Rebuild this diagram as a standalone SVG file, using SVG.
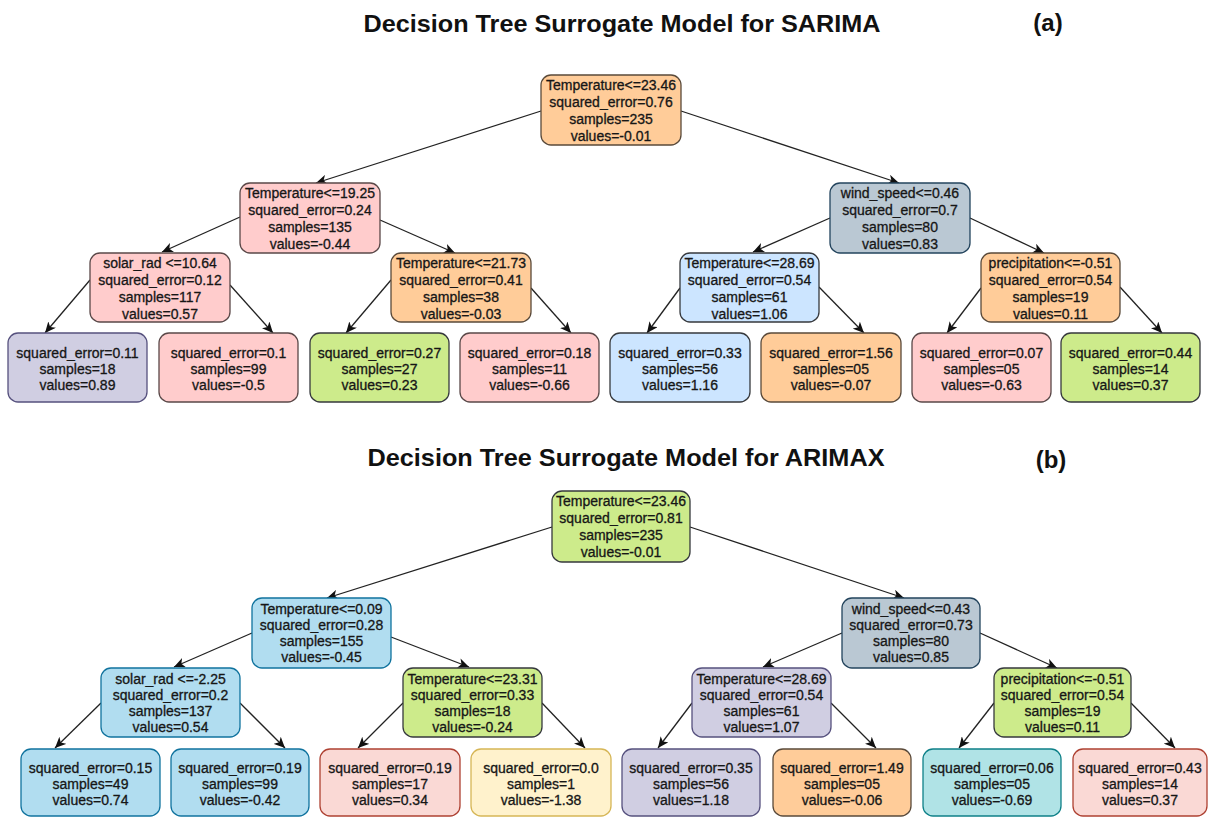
<svg xmlns="http://www.w3.org/2000/svg" width="1208" height="817" viewBox="0 0 1208 817">
<style>
.title{font-family:"Liberation Sans",Arial,sans-serif;font-weight:bold;font-size:24px;fill:#111;text-anchor:middle}
.t{font-family:"Liberation Sans",Arial,sans-serif;font-size:14px;fill:#161616;stroke:#161616;stroke-width:0.3;text-anchor:middle}
rect{stroke-width:1.3}
.orange{fill:#ffcc99;stroke:#5a4a3a}
.pink{fill:#ffcccc;stroke:#5a4848}
.gray{fill:#bac8d3;stroke:#23445d}
.lblue{fill:#cce5ff;stroke:#36393d}
.lav{fill:#d0cee2;stroke:#56517e}
.green{fill:#cdeb8b;stroke:#36393d}
.blue{fill:#b1ddf0;stroke:#10739e}
.salmon{fill:#fad9d5;stroke:#ae4132}
.yellow{fill:#fff2cc;stroke:#d6b656}
.teal{fill:#b0e3e6;stroke:#0e8088}
.edge line{stroke:#222;stroke-width:1.3;marker-end:url(#arr)}
</style>
<defs>
<marker id="arr" markerUnits="userSpaceOnUse" markerWidth="12" markerHeight="10" refX="11" refY="5" orient="auto">
<path d="M0,0 L11,5 L0,10 L3,5 z" fill="#111"/>
</marker>
</defs>
<rect width="1208" height="817" fill="#fff" stroke="none"/>

<text class="title" x="622" y="32" textLength="517" lengthAdjust="spacingAndGlyphs">Decision Tree Surrogate Model for SARIMA</text>
<text class="title" x="1048" y="31">(a)</text>
<text class="title" x="626" y="466" textLength="517" lengthAdjust="spacingAndGlyphs">Decision Tree Surrogate Model for ARIMAX</text>
<text class="title" x="1051" y="468">(b)</text>

<g id="edges" class="edge">
<line x1="541" y1="111" x2="316" y2="183"/>
<line x1="681" y1="111" x2="899" y2="183"/>
<line x1="240" y1="217" x2="162" y2="252"/>
<line x1="380" y1="220" x2="455" y2="253"/>
<line x1="830" y1="218" x2="753" y2="252"/>
<line x1="970" y1="218" x2="1044" y2="253"/>
<line x1="90" y1="280" x2="45" y2="333"/>
<line x1="230" y1="285" x2="273" y2="333"/>
<line x1="391" y1="280" x2="346" y2="333"/>
<line x1="531" y1="288" x2="571" y2="333"/>
<line x1="680" y1="288" x2="647" y2="333"/>
<line x1="819" y1="287" x2="864" y2="333"/>
<line x1="981" y1="288" x2="947" y2="333"/>
<line x1="1120" y1="287" x2="1162" y2="333"/>

<line x1="552" y1="527" x2="327" y2="598"/>
<line x1="690" y1="527" x2="904" y2="598"/>
<line x1="252" y1="633" x2="174" y2="667"/>
<line x1="391" y1="637" x2="469" y2="667"/>
<line x1="101" y1="703" x2="55" y2="748"/>
<line x1="240" y1="703" x2="285" y2="748"/>
<line x1="403" y1="703" x2="358" y2="748"/>
<line x1="542" y1="703" x2="585" y2="748"/>
<line x1="842" y1="633" x2="763" y2="667"/>
<line x1="980" y1="633" x2="1057" y2="668"/>
<line x1="692" y1="703" x2="658" y2="748"/>
<line x1="831" y1="703" x2="876" y2="748"/>
<line x1="994" y1="703" x2="959" y2="748"/>
<line x1="1131" y1="703" x2="1175" y2="748"/>
</g>

<!-- Tree (a) -->
<g id="a_root"><rect class="orange" x="541" y="75" width="140" height="70" rx="10"/>
<text class="t"><tspan x="611" y="90">Temperature&lt;=23.46</tspan><tspan x="611" y="107">squared_error=0.76</tspan><tspan x="611" y="124">samples=235</tspan><tspan x="611" y="141">values=-0.01</tspan></text></g>

<g id="a_n1"><rect class="pink" x="240" y="183" width="140" height="70" rx="10"/>
<text class="t"><tspan x="310" y="198">Temperature&lt;=19.25</tspan><tspan x="310" y="215">squared_error=0.24</tspan><tspan x="310" y="232">samples=135</tspan><tspan x="310" y="249">values=-0.44</tspan></text></g>

<g id="a_n2"><rect class="gray" x="830" y="183" width="140" height="70" rx="10"/>
<text class="t"><tspan x="900" y="198">wind_speed&lt;=0.46</tspan><tspan x="900" y="215">squared_error=0.7</tspan><tspan x="900" y="232">samples=80</tspan><tspan x="900" y="249">values=0.83</tspan></text></g>

<g id="a_n3"><rect class="pink" x="90" y="253" width="140" height="69" rx="10"/>
<text class="t"><tspan x="160" y="268">solar_rad &lt;=10.64</tspan><tspan x="160" y="285">squared_error=0.12</tspan><tspan x="160" y="302">samples=117</tspan><tspan x="160" y="319">values=0.57</tspan></text></g>

<g id="a_n4"><rect class="orange" x="391" y="253" width="140" height="69" rx="10"/>
<text class="t"><tspan x="461" y="268">Temperature&lt;=21.73</tspan><tspan x="461" y="285">squared_error=0.41</tspan><tspan x="461" y="302">samples=38</tspan><tspan x="461" y="319">values=-0.03</tspan></text></g>

<g id="a_n5"><rect class="lblue" x="680" y="253" width="139" height="69" rx="10"/>
<text class="t"><tspan x="749.5" y="268">Temperature&lt;=28.69</tspan><tspan x="749.5" y="285">squared_error=0.54</tspan><tspan x="749.5" y="302">samples=61</tspan><tspan x="749.5" y="319">values=1.06</tspan></text></g>

<g id="a_n6"><rect class="orange" x="981" y="253" width="139" height="69" rx="10"/>
<text class="t"><tspan x="1050.5" y="268">precipitation&lt;=-0.51</tspan><tspan x="1050.5" y="285">squared_error=0.54</tspan><tspan x="1050.5" y="302">samples=19</tspan><tspan x="1050.5" y="319">values=0.11</tspan></text></g>

<g id="a_l1"><rect class="lav" x="8" y="333" width="139" height="69" rx="10"/>
<text class="t"><tspan x="77.5" y="358">squared_error=0.11</tspan><tspan x="77.5" y="374">samples=18</tspan><tspan x="77.5" y="390">values=0.89</tspan></text></g>
<g id="a_l2"><rect class="pink" x="159" y="333" width="139" height="69" rx="10"/>
<text class="t"><tspan x="228.5" y="358">squared_error=0.1</tspan><tspan x="228.5" y="374">samples=99</tspan><tspan x="228.5" y="390">values=-0.5</tspan></text></g>
<g id="a_l3"><rect class="green" x="310" y="333" width="139" height="69" rx="10"/>
<text class="t"><tspan x="379.5" y="358">squared_error=0.27</tspan><tspan x="379.5" y="374">samples=27</tspan><tspan x="379.5" y="390">values=0.23</tspan></text></g>
<g id="a_l4"><rect class="pink" x="460" y="333" width="139" height="69" rx="10"/>
<text class="t"><tspan x="529.5" y="358">squared_error=0.18</tspan><tspan x="529.5" y="374">samples=11</tspan><tspan x="529.5" y="390">values=-0.66</tspan></text></g>
<g id="a_l5"><rect class="lblue" x="610" y="333" width="140" height="69" rx="10"/>
<text class="t"><tspan x="680" y="358">squared_error=0.33</tspan><tspan x="680" y="374">samples=56</tspan><tspan x="680" y="390">values=1.16</tspan></text></g>
<g id="a_l6"><rect class="orange" x="761" y="333" width="140" height="69" rx="10"/>
<text class="t"><tspan x="831" y="358">squared_error=1.56</tspan><tspan x="831" y="374">samples=05</tspan><tspan x="831" y="390">values=-0.07</tspan></text></g>
<g id="a_l7"><rect class="pink" x="912" y="333" width="139" height="69" rx="10"/>
<text class="t"><tspan x="981.5" y="358">squared_error=0.07</tspan><tspan x="981.5" y="374">samples=05</tspan><tspan x="981.5" y="390">values=-0.63</tspan></text></g>
<g id="a_l8"><rect class="green" x="1061" y="333" width="139" height="69" rx="10"/>
<text class="t"><tspan x="1130.5" y="358">squared_error=0.44</tspan><tspan x="1130.5" y="374">samples=14</tspan><tspan x="1130.5" y="390">values=0.37</tspan></text></g>

<!-- Tree (b) -->
<g id="b_root"><rect class="green" x="552" y="491" width="138" height="71" rx="10"/>
<text class="t"><tspan x="621" y="506">Temperature&lt;=23.46</tspan><tspan x="621" y="523">squared_error=0.81</tspan><tspan x="621" y="540">samples=235</tspan><tspan x="621" y="557">values=-0.01</tspan></text></g>

<g id="b_n1"><rect class="blue" x="252" y="598" width="139" height="70" rx="10"/>
<text class="t"><tspan x="321.5" y="614">Temperature&lt;=0.09</tspan><tspan x="321.5" y="630">squared_error=0.28</tspan><tspan x="321.5" y="646">samples=155</tspan><tspan x="321.5" y="662">values=-0.45</tspan></text></g>

<g id="b_n2"><rect class="gray" x="842" y="598" width="138" height="70" rx="10"/>
<text class="t"><tspan x="911" y="614">wind_speed&lt;=0.43</tspan><tspan x="911" y="630">squared_error=0.73</tspan><tspan x="911" y="646">samples=80</tspan><tspan x="911" y="662">values=0.85</tspan></text></g>

<g id="b_n3"><rect class="blue" x="101" y="668" width="139" height="69" rx="10"/>
<text class="t"><tspan x="170.5" y="684">solar_rad &lt;=-2.25</tspan><tspan x="170.5" y="700">squared_error=0.2</tspan><tspan x="170.5" y="716">samples=137</tspan><tspan x="170.5" y="732">values=0.54</tspan></text></g>

<g id="b_n4"><rect class="green" x="403" y="668" width="139" height="69" rx="10"/>
<text class="t"><tspan x="472.5" y="684">Temperature&lt;=23.31</tspan><tspan x="472.5" y="700">squared_error=0.33</tspan><tspan x="472.5" y="716">samples=18</tspan><tspan x="472.5" y="732">values=-0.24</tspan></text></g>

<g id="b_n5"><rect class="lav" x="692" y="668" width="139" height="69" rx="10"/>
<text class="t"><tspan x="761.5" y="684">Temperature&lt;=28.69</tspan><tspan x="761.5" y="700">squared_error=0.54</tspan><tspan x="761.5" y="716">samples=61</tspan><tspan x="761.5" y="732">values=1.07</tspan></text></g>

<g id="b_n6"><rect class="green" x="994" y="668" width="137" height="69" rx="10"/>
<text class="t"><tspan x="1062.5" y="684">precipitation&lt;=-0.51</tspan><tspan x="1062.5" y="700">squared_error=0.54</tspan><tspan x="1062.5" y="716">samples=19</tspan><tspan x="1062.5" y="732">values=0.11</tspan></text></g>

<g id="b_l1"><rect class="blue" x="21" y="749" width="139" height="67" rx="10"/>
<text class="t"><tspan x="90.5" y="773">squared_error=0.15</tspan><tspan x="90.5" y="789">samples=49</tspan><tspan x="90.5" y="805">values=0.74</tspan></text></g>
<g id="b_l2"><rect class="blue" x="171" y="749" width="138" height="67" rx="10"/>
<text class="t"><tspan x="240" y="773">squared_error=0.19</tspan><tspan x="240" y="789">samples=99</tspan><tspan x="240" y="805">values=-0.42</tspan></text></g>
<g id="b_l3"><rect class="salmon" x="320" y="749" width="140" height="67" rx="10"/>
<text class="t"><tspan x="390" y="773">squared_error=0.19</tspan><tspan x="390" y="789">samples=17</tspan><tspan x="390" y="805">values=0.34</tspan></text></g>
<g id="b_l4"><rect class="yellow" x="471" y="749" width="140" height="67" rx="10"/>
<text class="t"><tspan x="541" y="773">squared_error=0.0</tspan><tspan x="541" y="789">samples=1</tspan><tspan x="541" y="805">values=-1.38</tspan></text></g>
<g id="b_l5"><rect class="lav" x="622" y="749" width="138" height="67" rx="10"/>
<text class="t"><tspan x="691" y="773">squared_error=0.35</tspan><tspan x="691" y="789">samples=56</tspan><tspan x="691" y="805">values=1.18</tspan></text></g>
<g id="b_l6"><rect class="orange" x="773" y="749" width="138" height="67" rx="10"/>
<text class="t"><tspan x="842" y="773">squared_error=1.49</tspan><tspan x="842" y="789">samples=05</tspan><tspan x="842" y="805">values=-0.06</tspan></text></g>
<g id="b_l7"><rect class="teal" x="923" y="749" width="138" height="67" rx="10"/>
<text class="t"><tspan x="992" y="773">squared_error=0.06</tspan><tspan x="992" y="789">samples=05</tspan><tspan x="992" y="805">values=-0.69</tspan></text></g>
<g id="b_l8"><rect class="salmon" x="1073" y="749" width="134" height="67" rx="10"/>
<text class="t"><tspan x="1140" y="773">squared_error=0.43</tspan><tspan x="1140" y="789">samples=14</tspan><tspan x="1140" y="805">values=0.37</tspan></text></g>
</svg>
